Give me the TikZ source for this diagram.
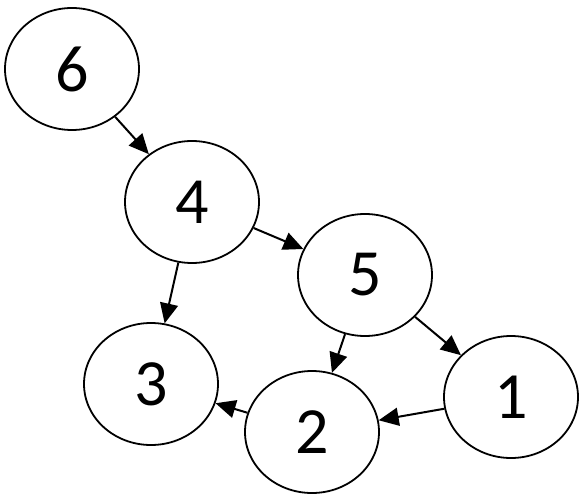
\documentclass[tikz,border=0pt]{standalone}
\usepackage{fontspec}
\setmainfont{Carlito}
\usetikzlibrary{shapes.geometric,arrows.meta}
\begin{document}
\begin{tikzpicture}[x=1pt,y=-1pt,
  vert/.style={ellipse,draw,line width=1.8pt,minimum width=134pt,minimum height=122pt,inner sep=0pt,font=\fontsize{66}{70}\selectfont},
  edge/.style={line width=2pt,-{Triangle[length=20pt,width=18pt]}}]
\useasboundingbox (0,0) rectangle (581,497);
\node[vert] (n6) at (72,69) {6};
\node[vert] (n4) at (192,202) {4};
\node[vert] (n5) at (365,275) {5};
\node[vert] (n1) at (511,397) {1};
\node[vert] (n3) at (151,384) {3};
\node[vert] (n2) at (312,432) {2};
\draw[edge] (n6) -- (n4);
\draw[edge] (n4) -- (n5);
\draw[edge] (n4) -- (n3);
\draw[edge] (n5) -- (n2);
\draw[edge] (n5) -- (n1);
\draw[edge] (n1) -- (n2);
\draw[edge] (n2) -- (n3);
\end{tikzpicture}
\end{document}
